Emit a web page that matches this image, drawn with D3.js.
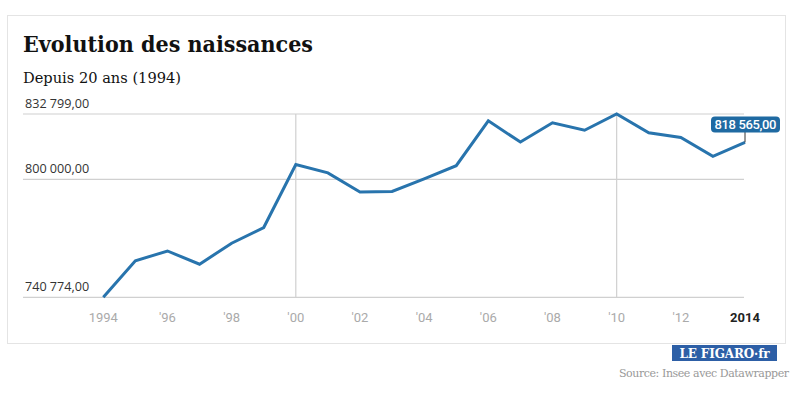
<html>
<head>
    <meta charset="utf-8">
    <title>Evolution des naissances</title>
    <style>
        body { margin: 0; background: #fff; }
    </style>
</head>
<body>
    <script src="https://cdn.jsdelivr.net/npm/d3@7"></script>
    <script>
        // données : naissances en France (Insee)
        var years = [1994, 1995, 1996, 1997, 1998, 1999, 2000, 2001, 2002, 2003, 2004,
            2005, 2006, 2007, 2008, 2009, 2010, 2011, 2012, 2013, 2014];
        var births = [740774, 759058, 764028, 757384, 767906, 775796, 807405, 803234, 793606, 793893, 800240,
            806822, 829352, 818705, 828404, 824641, 832799, 823394, 821047, 811510, 818565];
        var yTicks = [740774, 800000, 832799];
        var xTicks = [1994, 1996, 1998, 2000, 2002, 2004, 2006, 2008, 2010, 2012, 2014];
        var vLines = [2000, 2010];

        var width = 800, height = 398;
        var svg = d3.select("body").append("svg")
            .attr("width", width)
            .attr("height", height);

        // cadre
        svg.append("rect")
            .attr("x", 7.5).attr("y", 15.5)
            .attr("width", 778).attr("height", 328)
            .attr("fill", "#fff")
            .attr("stroke", "#e4e4e4");

        svg.append("text")
            .attr("x", 23).attr("y", 52)
            .attr("font-family", "DejaVu Serif")
            .attr("font-weight", "bold")
            .attr("font-size", 22.5)
            .attr("fill", "#111")
            .attr("textLength", 290)
            .attr("lengthAdjust", "spacingAndGlyphs")
            .text("Evolution des naissances");

        svg.append("text")
            .attr("x", 23).attr("y", 83)
            .attr("font-family", "DejaVu Serif")
            .attr("font-size", 15.5)
            .attr("fill", "#111")
            .attr("textLength", 158)
            .attr("lengthAdjust", "spacingAndGlyphs")
            .text("Depuis 20 ans (1994)");

        var x = d3.scaleLinear().domain([1994, 2014]).range([103.3, 745]);
        var y = d3.scaleLinear().domain([740774, 832799]).range([297.3, 114]);

        // lignes horizontales
        svg.selectAll(".hgrid").data(yTicks).enter().append("line")
            .attr("x1", 23).attr("x2", 744)
            .attr("y1", d => y(d)).attr("y2", d => y(d))
            .attr("stroke", "#d0d0d0")
            .attr("stroke-width", 1.2);

        svg.selectAll(".vgrid").data(vLines).enter().append("line")
            .attr("x1", d => x(d)).attr("x2", d => x(d))
            .attr("y1", y(832799)).attr("y2", y(740774))
            .attr("stroke", "#d0d0d0")
            .attr("stroke-width", 1.2);

        var fmt = d3.formatLocale({ decimal: ",", thousands: " ", grouping: [3], currency: ["", " €"] }).format(",.2f");

        svg.selectAll(".ylab").data(yTicks).enter().append("text")
            .attr("x", 25).attr("y", d => y(d) - 6)
            .attr("font-family", "Open Sans, DejaVu Sans")
            .attr("font-size", 12.6)
            .attr("fill", "#333")
            .text(d => fmt(d));

        svg.selectAll(".xlab").data(xTicks).enter().append("text")
            .attr("x", d => x(d)).attr("y", 322)
            .attr("text-anchor", "middle")
            .attr("font-family", "Roboto, Liberation Sans")
            .attr("font-size", 13)
            .attr("font-weight", d => d == 2014 ? "bold" : "normal")
            .attr("fill", d => d == 2014 ? "#222" : "#aaa")
            .text(d => (d == 1994 || d == 2014) ? d : "'" + String(d).slice(2));

        var line = d3.line()
            .x((d, i) => x(years[i]))
            .y(d => y(d));

        svg.append("path")
            .datum(births)
            .attr("d", line)
            .attr("fill", "none")
            .attr("stroke", "#2874ad")
            .attr("stroke-width", 3)
            .attr("stroke-linejoin", "miter");

        // étiquette de la dernière valeur
        var last = births[births.length - 1];
        svg.append("line")
            .attr("x1", x(2014)).attr("x2", x(2014))
            .attr("y1", 131).attr("y2", y(last))
            .attr("stroke", "#333").attr("stroke-width", 1);
        svg.append("rect")
            .attr("x", 711).attr("y", 116.5)
            .attr("width", 69).attr("height", 16)
            .attr("rx", 4)
            .attr("fill", "#1f6aa2");
        svg.append("text")
            .attr("x", 745.5).attr("y", 129)
            .attr("text-anchor", "middle")
            .attr("font-family", "Roboto, Liberation Sans")
            .attr("font-size", 13)
            .attr("font-weight", 500)
            .attr("fill", "#fff")
            .attr("textLength", 62)
            .text(fmt(last));

        // logo
        svg.append("rect")
            .attr("x", 672).attr("y", 345)
            .attr("width", 105).attr("height", 16)
            .attr("fill", "#2d5fa6");
        svg.append("text")
            .attr("x", 724.5).attr("y", 358)
            .attr("text-anchor", "middle")
            .attr("font-family", "DejaVu Serif")
            .attr("font-weight", "bold")
            .attr("font-size", 12)
            .attr("fill", "#fff")
            .attr("textLength", 90)
            .text("LE FIGARO·fr");

        svg.append("text")
            .attr("x", 789).attr("y", 377)
            .attr("text-anchor", "end")
            .attr("font-family", "DejaVu Serif")
            .attr("font-size", 11)
            .attr("fill", "#999")
            .attr("textLength", 170)
            .text("Source: Insee avec Datawrapper");
    </script>
</body>
</html>
